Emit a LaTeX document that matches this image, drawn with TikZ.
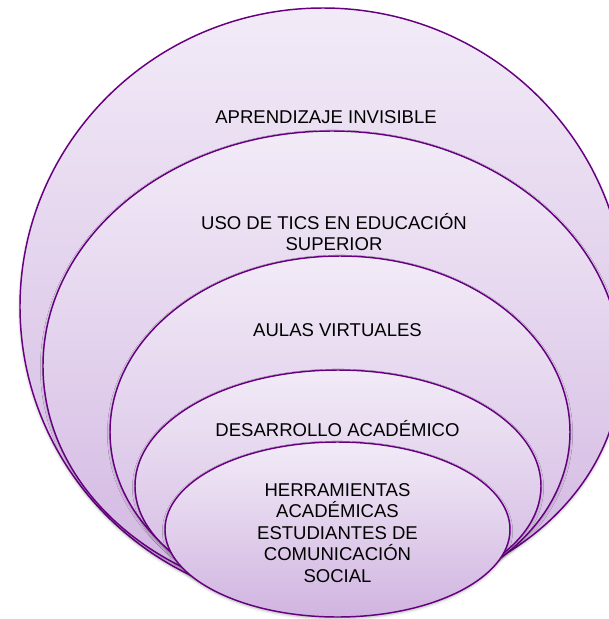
\documentclass[tikz,border=0pt]{standalone}
\usepackage{fontspec}
\setmainfont{Liberation Sans}
\usetikzlibrary{shapes.geometric,shadows.blur}
\definecolor{edge}{RGB}{102,0,128}
\definecolor{ftop}{RGB}{242,235,247}
\definecolor{fbot}{RGB}{208,180,224}
\begin{document}
\begin{tikzpicture}[x=0.75pt,y=-0.75pt,
  ring/.style={ellipse, draw=edge, line width=1.1pt, top color=ftop, bottom color=fbot,
    inner sep=0pt, outer sep=0pt,
    blur shadow={shadow xshift=0pt, shadow yshift=-1.2pt, shadow blur radius=2pt, shadow opacity=30}},
  lbl/.style={font=\fontsize{13.9pt}{16.1pt}\selectfont, align=center, inner sep=0pt, text=black}]
\useasboundingbox (0,0) rectangle (609,619);
\clip (0,0) rectangle (609,619);
\node[ring, minimum width=454.5pt, minimum height=447.9pt] (e1) at (323,306.6) {};
\node[ring, minimum width=433.5pt, minimum height=352.5pt] (e2) at (332,366) {};
\node[ring, minimum width=345pt, minimum height=264pt] (e3) at (340,432) {};
\node[ring, minimum width=304.5pt, minimum height=174pt] (e4) at (338,486) {};
\node[ring, minimum width=258.75pt, minimum height=131.25pt] (e5) at (337.5,529.5) {};
\node[lbl] (t1) at (326,117) {APRENDIZAJE INVISIBLE};
\node[lbl] (t2) at (334,232) {USO DE TICS EN EDUCACIÓN\\SUPERIOR};
\node[lbl] (t3) at (337.5,330) {AULAS VIRTUALES};
\node[lbl] (t4) at (337.5,429) {DESARROLLO ACADÉMICO};
\node[lbl] (t5) at (337.5,533) {HERRAMIENTAS\\ACADÉMICAS\\ESTUDIANTES DE\\COMUNICACIÓN\\SOCIAL};
\end{tikzpicture}
\end{document}
